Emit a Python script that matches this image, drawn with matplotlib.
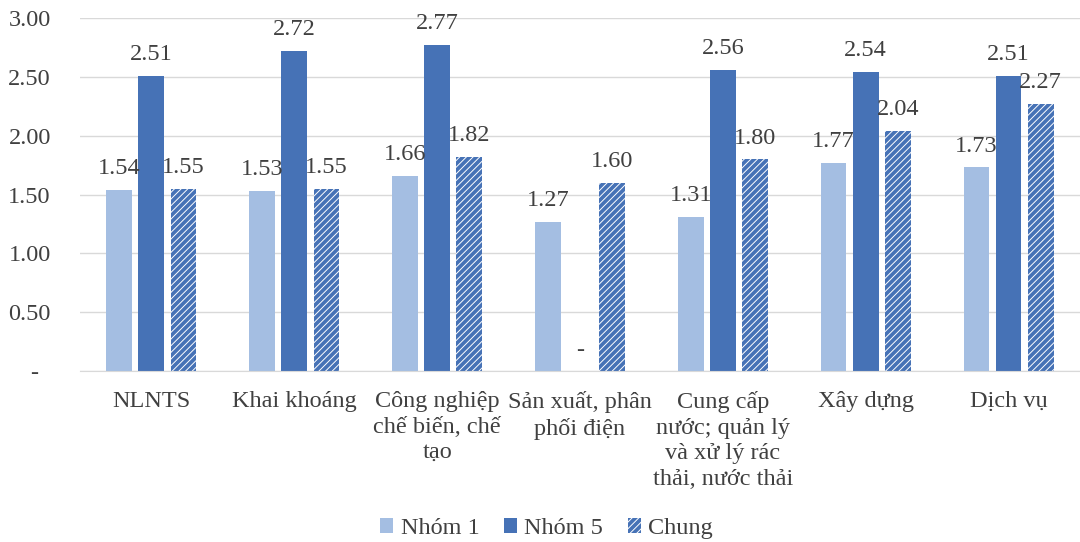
import matplotlib.pyplot as plt
import numpy as np

plt.rcParams["font.family"] = ["Liberation Serif", "DejaVu Serif"]
plt.rcParams["hatch.linewidth"] = 2.7

categories = [
    "NLNTS",
    "Khai khoáng",
    "Công nghiệp\nchế biến, chế\ntạo",
    "Sản xuất, phân\nphối điện",
    "Cung cấp\nnước; quản lý\nvà xử lý rác\nthải, nước thải",
    "Xây dựng",
    "Dịch vụ",
]
nhom1 = [1.54, 1.53, 1.66, 1.27, 1.31, 1.77, 1.73]
nhom5 = [2.51, 2.72, 2.77, 0.00, 2.56, 2.54, 2.51]
chung = [1.55, 1.55, 1.82, 1.60, 1.80, 2.04, 2.27]
y_ticks = [0, 0.5, 1.0, 1.5, 2.0, 2.5, 3.0]

light = "#A4BEE2"
dark = "#4672B6"
text_color = "#404040"
fs = 17.5

fig = plt.figure(figsize=(10.8, 5.42), dpi=100)
ax = fig.add_axes([0.074, 0.315, 0.926, 0.652])

x = np.arange(len(categories))
w = 0.18
step = 0.225

b1 = ax.bar(x - step, nhom1, w, color=light, label="Nhóm 1", zorder=2)
b5 = ax.bar(x, nhom5, w, color=dark, label="Nhóm 5", zorder=2)
bc = ax.bar(x + step, chung, w, color="white", edgecolor=dark,
            hatch="/////", linewidth=0, label="Chung", zorder=2)


def fmt(v):
    return "-" if v == 0 else f"{v:.2f}"


for bars, vals in [(b1, nhom1), (b5, nhom5), (bc, chung)]:
    for bar, v in zip(bars, vals):
        ax.text(bar.get_x() + bar.get_width() / 2, v + 0.09, fmt(v),
                ha="center", va="bottom", fontsize=fs, color=text_color)

ax.set_xlim(-0.5, len(categories) - 0.5)
ax.set_ylim(0, 3.0)
ax.set_yticks(y_ticks)
# accounting style: zero shown as a dash, set in from the right
ax.set_yticklabels([f"{t:.2f}" if t else "-  " for t in y_ticks])
ax.set_xticks(x)
ax.set_xticklabels(categories, linespacing=1.3)
ax.tick_params(axis="both", length=0, labelsize=fs, colors=text_color)
ax.tick_params(axis="x", pad=14)
ax.tick_params(axis="y", pad=21)

ax.grid(axis="y", color="#D9D9D9", linewidth=1, zorder=0)
for s in ["top", "right", "left"]:
    ax.spines[s].set_visible(False)
ax.spines["bottom"].set_color("#D9D9D9")

fig.legend(loc="lower center", bbox_to_anchor=(0.506, -0.035), ncol=3,
           frameon=False, fontsize=fs, handlelength=0.55, handleheight=0.55,
           handletextpad=0.3, columnspacing=1.0, labelcolor=text_color)

fig.savefig("out.png", dpi=100)
